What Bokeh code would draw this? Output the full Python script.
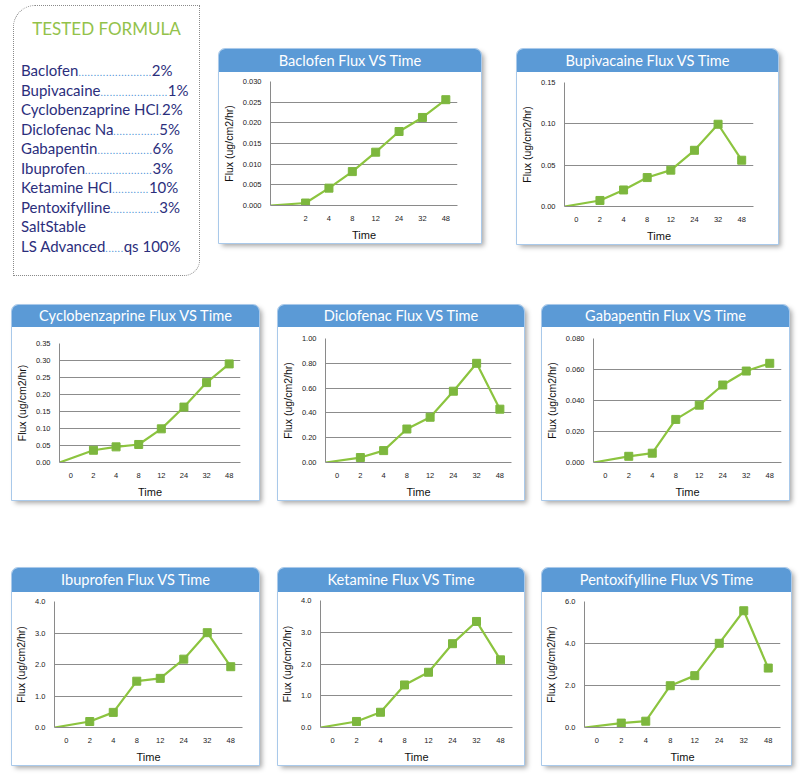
from bokeh.plotting import figure
from bokeh.layouts import row, column
from bokeh.models import Div, Spacer, Range1d, FixedTicker, NumeralTickFormatter
from bokeh.embed import file_html
from bokeh.resources import INLINE

# ---------------- data ----------------
time_labels = ["0", "2", "4", "8", "12", "24", "32", "48"]
baclofen_time_labels = ["", "2", "4", "8", "12", "24", "32", "48"]

baclofen = [0, 0.0006, 0.0042, 0.0082, 0.0129, 0.0179, 0.0213, 0.0256]
bupivacaine = [0, 0.0073, 0.020, 0.035, 0.044, 0.068, 0.0995, 0.056]
cyclobenzaprine = [0, 0.036, 0.046, 0.053, 0.099, 0.163, 0.235, 0.290]
diclofenac = [0, 0.04, 0.096, 0.27, 0.365, 0.575, 0.80, 0.43]
gabapentin = [0, 0.004, 0.006, 0.0278, 0.037, 0.050, 0.059, 0.064]
ibuprofen = [0, 0.19, 0.48, 1.47, 1.56, 2.17, 3.01, 1.93]
ketamine = [0, 0.19, 0.48, 1.34, 1.74, 2.64, 3.34, 2.13]
pentoxifylline = [0, 0.21, 0.30, 1.99, 2.47, 4.01, 5.56, 2.83]

chart_titles = ["Baclofen Flux VS Time", "Bupivacaine Flux VS Time",
                "Cyclobenzaprine Flux VS Time", "Diclofenac Flux VS Time",
                "Gabapentin Flux VS Time", "Ibuprofen Flux VS Time",
                "Ketamine Flux VS Time", "Pentoxifylline Flux VS Time"]
y_max = [0.030, 0.15, 0.35, 1.00, 0.080, 4.0, 4.0, 6.0]
y_step = [0.005, 0.05, 0.05, 0.20, 0.020, 1.0, 1.0, 2.0]
y_format = ["0.000", "0.00", "0.00", "0.00", "0.000", "0.0", "0.0", "0.0"]

formula_names = ["Baclofen", "Bupivacaine", "Cyclobenzaprine HCl", "Diclofenac Na",
                 "Gabapentin", "Ibuprofen", "Ketamine HCl", "Pentoxifylline",
                 "LS Advanced"]
formula_amounts = ["2%", "1%", "2%", "5%", "6%", "3%", "10%", "3%", "qs 100%"]

x_axis_label = "Time"
y_axis_label = "Flux (ug/cm2/hr)"

# ---------------- style / geometry ----------------
GREEN = "#8cc43f"
MARKER = "#7db73e"
TITLE_BLUE = "#5b9ad6"
NAVY = "#2b2e7c"

# x, y, w, h, title_h, frame_left, frame_right, frame_top, frame_bottom
geoms = [
    (219, 49, 262, 194, 23, 263, 457, 81, 210),
    (517, 49, 261, 195, 23, 558, 753, 82, 212),
    (12, 305, 247, 195, 22, 54, 240, 343, 466),
    (278, 305, 246, 195, 22, 315, 511, 338, 469),
    (542, 305, 247, 195, 22, 587, 781, 338, 468),
    (12, 568, 247, 197, 24, 48, 242, 601, 732),
    (278, 568, 246, 197, 24, 313, 512, 600, 732),
    (542, 568, 249, 197, 24, 578, 780, 601, 736),
]

series = [baclofen, bupivacaine, cyclobenzaprine, diclofenac,
          gabapentin, ibuprofen, ketamine, pentoxifylline]
labels_per_chart = [baclofen_time_labels] + [time_labels] * 7


def make_panel(i):
    title = chart_titles[i]
    values = series[i]
    xlabels = labels_per_chart[i]
    x0, y0, w, h, th, fl, fr, ft, fb = geoms[i]
    n = len(values)
    p = figure(width=w, height=h - th, output_backend="svg", toolbar_location=None,
               x_range=Range1d(0, n), y_range=Range1d(0, y_max[i]),
               min_border_left=fl - x0, min_border_right=(x0 + w) - fr,
               min_border_top=ft - (y0 + th), min_border_bottom=(y0 + h) - fb,
               background_fill_color="white", border_fill_color="white",
               outline_line_color=None)
    xs = [0] + [k + 0.5 for k in range(1, n)]
    p.line(xs, values, line_color=GREEN, line_width=2.2)
    p.scatter(xs[1:], values[1:], marker="square", size=8,
              fill_color=MARKER, line_color=MARKER)

    nt = int(round(y_max[i] / y_step[i]))
    p.yaxis.ticker = FixedTicker(ticks=[round(k * y_step[i], 6) for k in range(nt + 1)])
    p.yaxis.formatter = NumeralTickFormatter(format=y_format[i])
    p.xaxis.ticker = FixedTicker(ticks=[k + 0.5 for k in range(n)])
    p.xaxis.major_label_overrides = {k + 0.5: xlabels[k] for k in range(n)}

    for ax in (p.xaxis[0], p.yaxis[0]):
        ax.axis_line_color = "#8a8a8a"
        ax.axis_line_width = 1
        ax.major_tick_line_color = None
        ax.minor_tick_line_color = None
        ax.major_label_text_font = "Liberation Sans"
        ax.major_label_text_font_size = "7.5px"
        ax.major_label_text_color = "#222222"
        ax.axis_label_text_font = "Liberation Sans"
        ax.axis_label_text_font_style = "normal"
        ax.axis_label_text_color = "#111111"
    p.xaxis.axis_label = x_axis_label
    p.yaxis.axis_label = y_axis_label
    p.yaxis.axis_label_text_font_size = "10.5px"
    p.xaxis.axis_label_text_font_size = "11px"
    p.yaxis.major_label_standoff = 3
    p.xaxis.major_label_standoff = 4
    p.yaxis.axis_label_standoff = 5
    p.xaxis.axis_label_standoff = 5
    p.xgrid.grid_line_color = None
    p.ygrid.grid_line_color = "#8c8c8c"
    p.ygrid.grid_line_width = 1

    head = Div(text=title, width=w, height=th, margin=0,
               styles={"background-color": TITLE_BLUE, "color": "white",
                       "font-family": "Lato", "font-size": "14.6px",
                       "text-align": "center", "line-height": f"{th}px",
                       "border-radius": "6px 6px 0 0"})
    panel = column(head, p, spacing=0,
                   styles={"outline": "1px solid #a9c9ea",
                           "border-radius": "6px 6px 0 0",
                           "box-shadow": "3px 3px 5px rgba(0,0,0,0.35)"})
    return panel


panels = [make_panel(i) for i in range(8)]

# ---------------- formula box ----------------
dot_counts = [24, 22, 1, 15, 18, 22, 12, 16, 6]
rows_html = []
for k, (nm, amt) in enumerate(zip(formula_names, formula_amounts)):
    if k == len(formula_names) - 1:
        rows_html.append('<div style="white-space:nowrap;height:19.5px">SaltStable</div>')
    rows_html.append(
        f'<div style="white-space:nowrap;height:19.5px">{nm}'
        f'<span style="color:#4a8fd6;font-size:10px;letter-spacing:0.7px;">'
        + "." * dot_counts[k] +
        f'</span>{amt}</div>')

formula_html = (
    '<div style="position:relative;width:187px;height:271px;box-sizing:border-box;'
    'border:1.5px dotted #8a8a8a;border-radius:22px 0 16px 0;font-family:Lato;">'
    '<div style="position:absolute;left:0;right:0;top:13px;text-align:center;'
    'color:#93c24a;font-size:17px;line-height:20px;">TESTED FORMULA</div>'
    f'<div style="position:absolute;left:7px;top:55px;color:{NAVY};font-size:15px;line-height:19.5px;">'
    + "".join(rows_html) + '</div></div>'
)
formula = Div(text=formula_html, width=187, height=271, margin=0)

# ---------------- layout ----------------
g = geoms
row1 = row(Spacer(width=13), formula, Spacer(width=g[0][0] - 200),
           column(Spacer(height=g[0][1] - 5), panels[0]),
           Spacer(width=g[1][0] - (g[0][0] + g[0][2])),
           column(Spacer(height=g[1][1] - 5), panels[1]))
row2 = row(Spacer(width=g[2][0]), panels[2],
           Spacer(width=g[3][0] - (g[2][0] + g[2][2])), panels[3],
           Spacer(width=g[4][0] - (g[3][0] + g[3][2])), panels[4])
row3 = row(Spacer(width=g[5][0]), panels[5],
           Spacer(width=g[6][0] - (g[5][0] + g[5][2])), panels[6],
           Spacer(width=g[7][0] - (g[6][0] + g[6][2])), panels[7])

layout = column(Spacer(height=5), row1,
                Spacer(height=g[2][1] - 276), row2,
                Spacer(height=g[5][1] - (g[2][1] + g[2][3])), row3,
                styles={"background-color": "white"})

open("out.html", "w").write(file_html(layout, INLINE, title="Tested Formula Flux"))
